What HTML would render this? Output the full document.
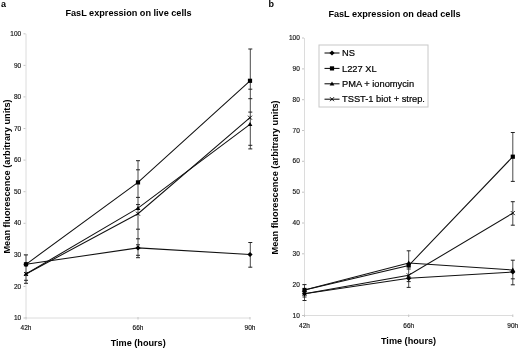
<!DOCTYPE html>
<html><head><meta charset="utf-8"><style>
html,body{margin:0;padding:0;background:#fff;}
body{width:520px;height:348px;overflow:hidden;}
svg{display:block;-webkit-font-smoothing:antialiased;}
text{font-family:"Liberation Sans",sans-serif;fill:#000;}
.t{font-size:6.5px;fill:#111;stroke:#111;stroke-width:0.15px;}
.tt{font-size:9.15px;font-weight:bold;}
.yl{font-size:9.25px;font-weight:bold;}
.lg{font-size:9.3px;stroke:#000;stroke-width:0.2px;}
.pl{font-size:9px;font-weight:bold;}
</style></head><body>
<svg style="will-change:transform" width="520" height="348" viewBox="0 0 520 348">
<rect width="520" height="348" fill="#fff"/>
<line x1="26" y1="33.8" x2="26" y2="318" stroke="#dcdcdc" stroke-width="1"/>
<line x1="26" y1="318" x2="250" y2="318" stroke="#dcdcdc" stroke-width="1"/>
<line x1="23.5" y1="318.0" x2="25.5" y2="318.0" stroke="#c4c4c4" stroke-width="1"/>
<text x="21.2" y="320.1" class="t" text-anchor="end">10</text>
<line x1="23.5" y1="286.4" x2="25.5" y2="286.4" stroke="#c4c4c4" stroke-width="1"/>
<text x="21.2" y="288.5" class="t" text-anchor="end">20</text>
<line x1="23.5" y1="254.8" x2="25.5" y2="254.8" stroke="#c4c4c4" stroke-width="1"/>
<text x="21.2" y="256.9" class="t" text-anchor="end">30</text>
<line x1="23.5" y1="223.3" x2="25.5" y2="223.3" stroke="#c4c4c4" stroke-width="1"/>
<text x="21.2" y="225.4" class="t" text-anchor="end">40</text>
<line x1="23.5" y1="191.7" x2="25.5" y2="191.7" stroke="#c4c4c4" stroke-width="1"/>
<text x="21.2" y="193.8" class="t" text-anchor="end">50</text>
<line x1="23.5" y1="160.1" x2="25.5" y2="160.1" stroke="#c4c4c4" stroke-width="1"/>
<text x="21.2" y="162.2" class="t" text-anchor="end">60</text>
<line x1="23.5" y1="128.5" x2="25.5" y2="128.5" stroke="#c4c4c4" stroke-width="1"/>
<text x="21.2" y="130.6" class="t" text-anchor="end">70</text>
<line x1="23.5" y1="96.9" x2="25.5" y2="96.9" stroke="#c4c4c4" stroke-width="1"/>
<text x="21.2" y="99.0" class="t" text-anchor="end">80</text>
<line x1="23.5" y1="65.4" x2="25.5" y2="65.4" stroke="#c4c4c4" stroke-width="1"/>
<text x="21.2" y="67.5" class="t" text-anchor="end">90</text>
<line x1="23.5" y1="33.8" x2="25.5" y2="33.8" stroke="#c4c4c4" stroke-width="1"/>
<text x="21.2" y="35.9" class="t" text-anchor="end">100</text>
<line x1="26" y1="317" x2="26" y2="319.5" stroke="#c4c4c4" stroke-width="1"/>
<line x1="138" y1="317" x2="138" y2="319.5" stroke="#c4c4c4" stroke-width="1"/>
<line x1="250" y1="317" x2="250" y2="319.5" stroke="#c4c4c4" stroke-width="1"/>
<line x1="26" y1="254.9" x2="26" y2="283.3" stroke="#4a4a4a" stroke-width="1"/>
<line x1="24.0" y1="254.9" x2="28.0" y2="254.9" stroke="#222" stroke-width="1"/>
<line x1="24.0" y1="280.3" x2="28.0" y2="280.3" stroke="#222" stroke-width="1"/>
<line x1="24.0" y1="283.3" x2="28.0" y2="283.3" stroke="#222" stroke-width="1"/>
<line x1="138" y1="160.7" x2="138" y2="257.7" stroke="#4a4a4a" stroke-width="1"/>
<line x1="136.0" y1="160.7" x2="140.0" y2="160.7" stroke="#222" stroke-width="1"/>
<line x1="136.0" y1="169.8" x2="140.0" y2="169.8" stroke="#222" stroke-width="1"/>
<line x1="136.0" y1="197.4" x2="140.0" y2="197.4" stroke="#222" stroke-width="1"/>
<line x1="136.0" y1="204.6" x2="140.0" y2="204.6" stroke="#222" stroke-width="1"/>
<line x1="136.0" y1="229.2" x2="140.0" y2="229.2" stroke="#222" stroke-width="1"/>
<line x1="136.0" y1="238.8" x2="140.0" y2="238.8" stroke="#222" stroke-width="1"/>
<line x1="136.0" y1="244.8" x2="140.0" y2="244.8" stroke="#222" stroke-width="1"/>
<line x1="136.0" y1="255.3" x2="140.0" y2="255.3" stroke="#222" stroke-width="1"/>
<line x1="136.0" y1="257.7" x2="140.0" y2="257.7" stroke="#222" stroke-width="1"/>
<line x1="250.3" y1="49.0" x2="250.3" y2="148.9" stroke="#4a4a4a" stroke-width="1"/>
<line x1="248.3" y1="49.0" x2="252.3" y2="49.0" stroke="#222" stroke-width="1"/>
<line x1="248.3" y1="89.2" x2="252.3" y2="89.2" stroke="#222" stroke-width="1"/>
<line x1="248.3" y1="98.7" x2="252.3" y2="98.7" stroke="#222" stroke-width="1"/>
<line x1="248.3" y1="112.1" x2="252.3" y2="112.1" stroke="#222" stroke-width="1"/>
<line x1="248.3" y1="145.3" x2="252.3" y2="145.3" stroke="#222" stroke-width="1"/>
<line x1="248.3" y1="148.9" x2="252.3" y2="148.9" stroke="#222" stroke-width="1"/>
<line x1="250.3" y1="242.5" x2="250.3" y2="267.2" stroke="#4a4a4a" stroke-width="1"/>
<line x1="248.3" y1="242.5" x2="252.3" y2="242.5" stroke="#222" stroke-width="1"/>
<line x1="248.3" y1="267.2" x2="252.3" y2="267.2" stroke="#222" stroke-width="1"/>
<polyline points="26.0,264.3 138.0,247.9 250.0,254.5" fill="none" stroke="#111" stroke-width="1.05"/>
<polyline points="26.0,264.3 138.0,182.4 250.0,80.8" fill="none" stroke="#111" stroke-width="1.05"/>
<polyline points="26.0,274.0 138.0,208.1 250.0,124.3" fill="none" stroke="#111" stroke-width="1.05"/>
<polyline points="26.0,274.0 138.0,213.7 250.0,117.7" fill="none" stroke="#111" stroke-width="1.05"/>
<path d="M26.0,261.7 L28.6,264.3 L26.0,266.9 L23.4,264.3Z" fill="#000"/>
<path d="M138.0,245.3 L140.6,247.9 L138.0,250.5 L135.4,247.9Z" fill="#000"/>
<path d="M250.0,251.9 L252.6,254.5 L250.0,257.1 L247.4,254.5Z" fill="#000"/>
<rect x="23.9" y="262.2" width="4.2" height="4.2" fill="#000"/>
<rect x="135.9" y="180.3" width="4.2" height="4.2" fill="#000"/>
<rect x="247.9" y="78.7" width="4.2" height="4.2" fill="#000"/>
<path d="M26.0,271.6 L28.4,275.8 L23.6,275.8Z" fill="#000"/>
<path d="M138.0,205.7 L140.4,209.9 L135.6,209.9Z" fill="#000"/>
<path d="M250.0,121.9 L252.4,126.1 L247.6,126.1Z" fill="#000"/>
<path d="M24.0,272.0 L28.0,276.0 M28.0,272.0 L24.0,276.0" stroke="#000" stroke-width="0.9" fill="none"/>
<path d="M136.0,211.7 L140.0,215.7 M140.0,211.7 L136.0,215.7" stroke="#000" stroke-width="0.9" fill="none"/>
<path d="M248.0,115.7 L252.0,119.7 M252.0,115.7 L248.0,119.7" stroke="#000" stroke-width="0.9" fill="none"/>
<line x1="304.5" y1="38.0" x2="304.5" y2="315.5" stroke="#dcdcdc" stroke-width="1"/>
<line x1="304.5" y1="315.5" x2="512.8" y2="315.5" stroke="#dcdcdc" stroke-width="1"/>
<line x1="302.0" y1="315.5" x2="304.0" y2="315.5" stroke="#c4c4c4" stroke-width="1"/>
<text x="299.8" y="317.6" class="t" text-anchor="end">10</text>
<line x1="302.0" y1="284.7" x2="304.0" y2="284.7" stroke="#c4c4c4" stroke-width="1"/>
<text x="299.8" y="286.8" class="t" text-anchor="end">20</text>
<line x1="302.0" y1="253.8" x2="304.0" y2="253.8" stroke="#c4c4c4" stroke-width="1"/>
<text x="299.8" y="255.9" class="t" text-anchor="end">30</text>
<line x1="302.0" y1="223.0" x2="304.0" y2="223.0" stroke="#c4c4c4" stroke-width="1"/>
<text x="299.8" y="225.1" class="t" text-anchor="end">40</text>
<line x1="302.0" y1="192.2" x2="304.0" y2="192.2" stroke="#c4c4c4" stroke-width="1"/>
<text x="299.8" y="194.3" class="t" text-anchor="end">50</text>
<line x1="302.0" y1="161.3" x2="304.0" y2="161.3" stroke="#c4c4c4" stroke-width="1"/>
<text x="299.8" y="163.4" class="t" text-anchor="end">60</text>
<line x1="302.0" y1="130.5" x2="304.0" y2="130.5" stroke="#c4c4c4" stroke-width="1"/>
<text x="299.8" y="132.6" class="t" text-anchor="end">70</text>
<line x1="302.0" y1="99.7" x2="304.0" y2="99.7" stroke="#c4c4c4" stroke-width="1"/>
<text x="299.8" y="101.8" class="t" text-anchor="end">80</text>
<line x1="302.0" y1="68.9" x2="304.0" y2="68.9" stroke="#c4c4c4" stroke-width="1"/>
<text x="299.8" y="71.0" class="t" text-anchor="end">90</text>
<line x1="302.0" y1="38.0" x2="304.0" y2="38.0" stroke="#c4c4c4" stroke-width="1"/>
<text x="299.8" y="40.1" class="t" text-anchor="end">100</text>
<line x1="304.5" y1="314.5" x2="304.5" y2="317.0" stroke="#c4c4c4" stroke-width="1"/>
<line x1="408.7" y1="314.5" x2="408.7" y2="317.0" stroke="#c4c4c4" stroke-width="1"/>
<line x1="512.8" y1="314.5" x2="512.8" y2="317.0" stroke="#c4c4c4" stroke-width="1"/>
<line x1="304.5" y1="284.6" x2="304.5" y2="300.5" stroke="#4a4a4a" stroke-width="1"/>
<line x1="302.5" y1="284.6" x2="306.5" y2="284.6" stroke="#222" stroke-width="1"/>
<line x1="302.5" y1="297.0" x2="306.5" y2="297.0" stroke="#222" stroke-width="1"/>
<line x1="302.5" y1="300.5" x2="306.5" y2="300.5" stroke="#222" stroke-width="1"/>
<line x1="408.7" y1="250.8" x2="408.7" y2="287.4" stroke="#4a4a4a" stroke-width="1"/>
<line x1="406.7" y1="250.8" x2="410.7" y2="250.8" stroke="#222" stroke-width="1"/>
<line x1="406.7" y1="269.0" x2="410.7" y2="269.0" stroke="#222" stroke-width="1"/>
<line x1="406.7" y1="281.6" x2="410.7" y2="281.6" stroke="#222" stroke-width="1"/>
<line x1="406.7" y1="287.4" x2="410.7" y2="287.4" stroke="#222" stroke-width="1"/>
<line x1="512.8" y1="132.5" x2="512.8" y2="181.4" stroke="#4a4a4a" stroke-width="1"/>
<line x1="510.8" y1="132.5" x2="514.8" y2="132.5" stroke="#222" stroke-width="1"/>
<line x1="510.8" y1="181.4" x2="514.8" y2="181.4" stroke="#222" stroke-width="1"/>
<line x1="512.8" y1="201.7" x2="512.8" y2="225.2" stroke="#4a4a4a" stroke-width="1"/>
<line x1="510.8" y1="201.7" x2="514.8" y2="201.7" stroke="#222" stroke-width="1"/>
<line x1="510.8" y1="225.2" x2="514.8" y2="225.2" stroke="#222" stroke-width="1"/>
<line x1="512.8" y1="260.2" x2="512.8" y2="284.8" stroke="#4a4a4a" stroke-width="1"/>
<line x1="510.8" y1="260.2" x2="514.8" y2="260.2" stroke="#222" stroke-width="1"/>
<line x1="510.8" y1="278.8" x2="514.8" y2="278.8" stroke="#222" stroke-width="1"/>
<line x1="510.8" y1="284.8" x2="514.8" y2="284.8" stroke="#222" stroke-width="1"/>
<polyline points="304.5,293.8 408.7,278.3 512.8,272.0" fill="none" stroke="#111" stroke-width="1.05"/>
<polyline points="304.5,290.0 408.7,265.5 512.8,156.7" fill="none" stroke="#111" stroke-width="1.05"/>
<polyline points="304.5,290.0 408.7,263.0 512.8,270.0" fill="none" stroke="#111" stroke-width="1.05"/>
<polyline points="304.5,293.8 408.7,275.3 512.8,213.1" fill="none" stroke="#111" stroke-width="1.05"/>
<path d="M304.5,291.2 L307.1,293.8 L304.5,296.4 L301.9,293.8Z" fill="#000"/>
<path d="M408.7,275.7 L411.3,278.3 L408.7,280.9 L406.1,278.3Z" fill="#000"/>
<path d="M512.8,269.4 L515.4,272.0 L512.8,274.6 L510.2,272.0Z" fill="#000"/>
<rect x="302.4" y="287.9" width="4.2" height="4.2" fill="#000"/>
<rect x="406.6" y="263.4" width="4.2" height="4.2" fill="#000"/>
<rect x="510.7" y="154.6" width="4.2" height="4.2" fill="#000"/>
<path d="M304.5,287.6 L306.9,291.8 L302.1,291.8Z" fill="#000"/>
<path d="M408.7,260.6 L411.1,264.8 L406.3,264.8Z" fill="#000"/>
<path d="M512.8,267.6 L515.2,271.8 L510.4,271.8Z" fill="#000"/>
<path d="M302.5,291.8 L306.5,295.8 M306.5,291.8 L302.5,295.8" stroke="#000" stroke-width="0.9" fill="none"/>
<path d="M406.7,273.3 L410.7,277.3 M410.7,273.3 L406.7,277.3" stroke="#000" stroke-width="0.9" fill="none"/>
<path d="M510.8,211.1 L514.8,215.1 M514.8,211.1 L510.8,215.1" stroke="#000" stroke-width="0.9" fill="none"/>
<rect x="319" y="45" width="109" height="62" fill="#fff" stroke="#c8c8c8" stroke-width="1"/>
<line x1="324.5" y1="53" x2="339.5" y2="53" stroke="#000" stroke-width="1"/>
<path d="M332.0,50.4 L334.6,53.0 L332.0,55.6 L329.4,53.0Z" fill="#000"/>
<text x="342" y="56.2" class="lg">NS</text>
<line x1="324.5" y1="68.4" x2="339.5" y2="68.4" stroke="#000" stroke-width="1"/>
<rect x="329.9" y="66.3" width="4.2" height="4.2" fill="#000"/>
<text x="342" y="71.6" class="lg">L227 XL</text>
<line x1="324.5" y1="83.8" x2="339.5" y2="83.8" stroke="#000" stroke-width="1"/>
<path d="M332.0,81.4 L334.4,85.6 L329.6,85.6Z" fill="#000"/>
<text x="342" y="87.0" class="lg">PMA + ionomycin</text>
<line x1="324.5" y1="99.2" x2="339.5" y2="99.2" stroke="#000" stroke-width="1"/>
<path d="M330.0,97.2 L334.0,101.2 M334.0,97.2 L330.0,101.2" stroke="#000" stroke-width="0.9" fill="none"/>
<text x="342" y="102.4" class="lg">TSST-1 biot + strep.</text>
<text x="1" y="6.6" class="pl">a</text>
<text x="268.6" y="6.8" class="pl">b</text>
<text x="128.5" y="16.3" class="tt" text-anchor="middle">FasL expression on live cells</text>
<text x="394.5" y="16.6" class="tt" text-anchor="middle">FasL expression on dead cells</text>
<text transform="translate(9.9,176.5) rotate(-90)" class="yl" text-anchor="middle">Mean fluorescence (arbitrary units)</text>
<text transform="translate(278.4,177.4) rotate(-90)" class="yl" text-anchor="middle">Mean fluorescence (arbitrary units)</text>
<text x="138.2" y="345.5" class="tt" text-anchor="middle">Time (hours)</text>
<text x="408.5" y="343.5" class="tt" text-anchor="middle">Time (hours)</text>
<text x="26" y="329.8" class="t" text-anchor="middle">42h</text>
<text x="138" y="329.8" class="t" text-anchor="middle">66h</text>
<text x="250" y="329.8" class="t" text-anchor="middle">90h</text>
<text x="304.5" y="328" class="t" text-anchor="middle">42h</text>
<text x="408.7" y="328" class="t" text-anchor="middle">66h</text>
<text x="512.8" y="328" class="t" text-anchor="middle">90h</text>
</svg>
</body></html>
